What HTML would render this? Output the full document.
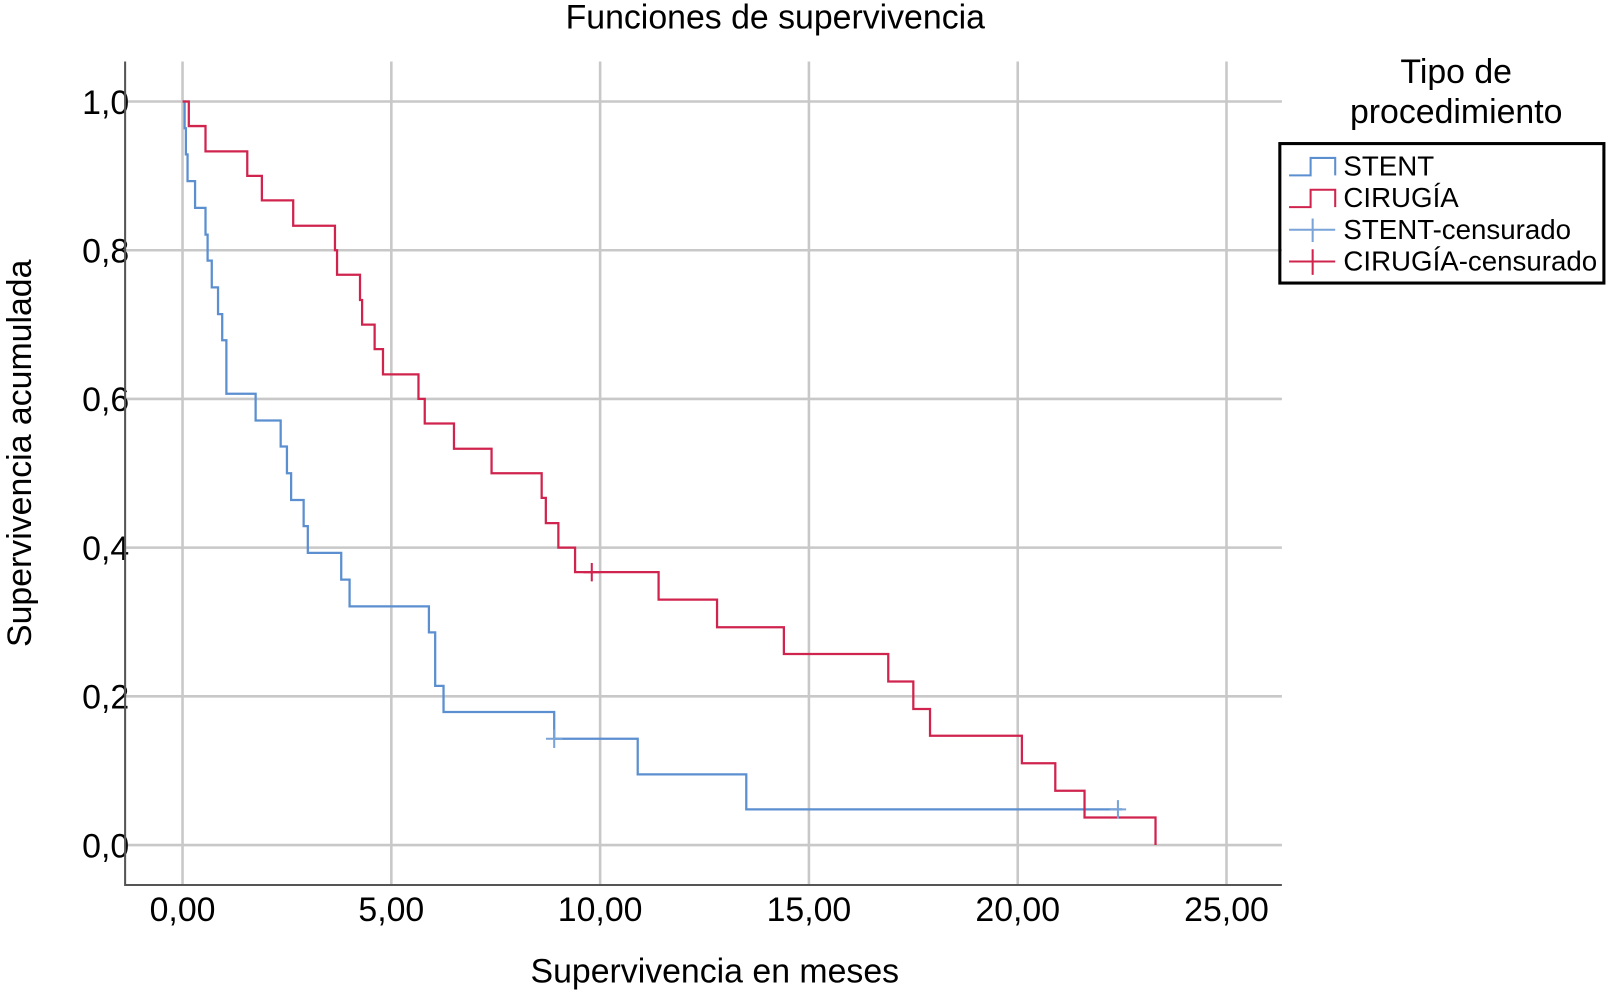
<!DOCTYPE html>
<html><head><meta charset="utf-8"><style>
body{margin:0;background:#fff}
svg{display:block;font-family:"Liberation Sans",Arial,sans-serif}
</style></head><body>
<svg id="chart" width="1608" height="992" viewBox="0 0 1568 967.3" preserveAspectRatio="none">
<text x="756" y="28" font-size="33" text-anchor="middle" fill="#000">Funciones de supervivencia</text>
<g id="grid"></g>
<g id="axes"></g>
<g id="series"></g>
<text x="697" y="958" font-size="33" text-anchor="middle">Supervivencia en meses</text>
<text transform="translate(30,442) rotate(-90)" font-size="33" text-anchor="middle">Supervivencia acumulada</text>
<g>
<text x="1420" y="81" font-size="33" text-anchor="middle">Tipo de</text>
<text x="1420" y="120" font-size="33" text-anchor="middle">procedimiento</text>
<rect x="1248" y="140" width="316" height="136" fill="none" stroke="#000" stroke-width="3"/>
<g><path d="M1257,171 H1278 V154 H1302 V171" fill="none" stroke="#5b8fd0" stroke-width="2"/><text x="1310" y="171" font-size="27">STENT</text></g>
<g><path d="M1257,202 H1278 V185 H1302 V202" fill="none" stroke="#d0244e" stroke-width="2"/><text x="1310" y="202" font-size="27">CIRUGÍA</text></g>
<g><path d="M1257,224 H1302 M1280,213 V236" stroke="#7aa3d8" stroke-width="2"/><text x="1310" y="233" font-size="27">STENT-censurado</text></g>
<g><path d="M1257,255 H1302 M1280,243 V268" stroke="#d0244e" stroke-width="2"/><text x="1310" y="264" font-size="27">CIRUGÍA-censurado</text></g>
</g>
</svg>
<script>
const xTicks=[0,5,10,15,20,25];
const xTickLabels=["0,00","5,00","10,00","15,00","20,00","25,00"];
const yTicks=[0,0.2,0.4,0.6,0.8,1.0];
const yTickLabels=["0,0","0,2","0,4","0,6","0,8","1,0"];
const stentTimes=[0.05,0.08,0.12,0.3,0.55,0.6,0.7,0.85,0.95,1.05,1.75,2.35,2.5,2.6,2.9,3.0,3.8,4.0,5.9,6.05,6.25,8.9,10.9,13.5];
const stentSurv=[0.964,0.929,0.893,0.857,0.821,0.786,0.75,0.714,0.679,0.607,0.571,0.536,0.5,0.464,0.429,0.393,0.357,0.321,0.286,0.214,0.179,0.143,0.095,0.048];
const stentEnd=22.5;
const stentCensorT=[8.9,22.4];
const stentCensorS=[0.143,0.048];
const cirTimes=[0.15,0.55,1.55,1.9,2.65,3.65,3.7,4.25,4.3,4.6,4.8,5.65,5.8,6.5,7.4,8.6,8.7,9.0,9.4,11.4,12.8,14.4,16.9,17.5,17.9,20.1,20.9,21.6,23.3];
const cirSurv=[0.967,0.933,0.9,0.867,0.833,0.8,0.767,0.733,0.7,0.667,0.633,0.6,0.567,0.533,0.5,0.467,0.433,0.4,0.367,0.33,0.293,0.257,0.22,0.183,0.147,0.11,0.073,0.037,0];
const cirEnd=23.3;
const cirCensorT=[9.8];
const cirCensorS=[0.367];

const NS="http://www.w3.org/2000/svg";
const X=t=>178+t*40.72;
const Y=v=>824-v*725;
function mk(tag,attrs,parent){const e=document.createElementNS(NS,tag);for(const k in attrs)e.setAttribute(k,attrs[k]);parent.appendChild(e);return e;}
const grid=document.getElementById('grid'),axes=document.getElementById('axes'),series=document.getElementById('series');
xTicks.forEach((t,i)=>{
 const l=mk('line',{x1:X(t),x2:X(t),y1:60,y2:863,stroke:'#c8c8c8','stroke-width':2.5},grid);
 
 
 const tx=mk('text',{x:X(t),y:898,'font-size':33,'text-anchor':'middle'},axes);
 tx.textContent=xTickLabels[i];
 
 
});
yTicks.forEach((v,i)=>{
 const l=mk('line',{x1:122,x2:1250,y1:Y(v),y2:Y(v),stroke:'#c8c8c8','stroke-width':2.5},grid);
 
 
 const tx=mk('text',{x:126,y:Y(v)+12,'font-size':33,'text-anchor':'end'},axes);
 tx.textContent=yTickLabels[i];
 
 
});
const ax=mk('path',{d:'M122,60 V863 H1250',fill:'none',stroke:'#555','stroke-width':2},axes);


function step(times,surv,end,color,name){
 let d='M'+X(0)+','+Y(1);
 times.forEach((t,i)=>{d+=' H'+X(t)+' V'+Y(surv[i]);});
 const last=times[times.length-1];
 if(end>last)d+=' H'+X(end);
 const p=mk('path',{d:d,fill:'none',stroke:color,'stroke-width':2.2},series);
 
 
}
function censor(ts,ss,color,name){
 ts.forEach((t,i)=>{
  const p=mk('path',{d:`M${X(t)-8},${Y(ss[i])} H${X(t)+8} M${X(t)},${Y(ss[i])-9} V${Y(ss[i])+9}`,stroke:color,'stroke-width':2},series);
  
  
 });
}
step(stentTimes,stentSurv,stentEnd,'#5b8fd0','stent-curve');
step(cirTimes,cirSurv,cirEnd,'#d0244e','cirugia-curve');
censor(stentCensorT,stentCensorS,'#7aa3d8','stent-censor-mark');
censor(cirCensorT,cirCensorS,'#d0244e','cirugia-censor-mark');
</script>
</body></html>
